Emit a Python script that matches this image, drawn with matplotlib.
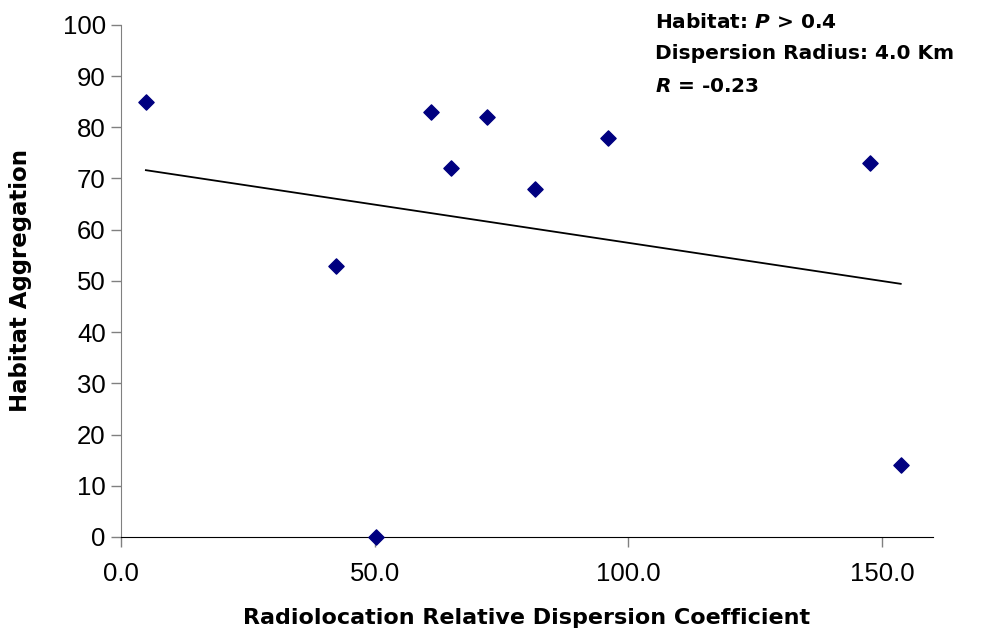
import numpy as np
import matplotlib.pyplot as plt

# dispersion coefficient vs habitat aggregation
dispersion = [4.9, 42.3, 50.2, 61.2, 65.0, 72.2, 81.7, 95.9, 147.6, 153.7]
aggregation = [85, 53, 0, 83, 72, 82, 68, 78, 73, 14]
xticks = [0, 50, 100, 150]
xticklabels = ["0.0", "50.0", "100.0", "150.0"]
yticks = list(range(0, 101, 10))

plt.rcParams['font.family'] = ['Liberation Sans', 'DejaVu Sans']
bold = ['DejaVu Sans']

fig = plt.figure(figsize=(9.88, 6.37), dpi=100)
ax = fig.add_axes([0.1225, 0.157, 0.8215, 0.804])

ax.scatter(dispersion, aggregation, marker='D', s=60, color='#000080',
           zorder=3, clip_on=False)

# linear trend line
slope, icpt = np.polyfit(dispersion, aggregation, 1)
xs = np.array([min(dispersion), max(dispersion)])
ax.plot(xs, slope * xs + icpt, color='black', lw=1.3)

ax.set_xlim(0, 160)
ax.set_ylim(0, 100)
ax.set_xticks(xticks)
ax.set_xticklabels(xticklabels)
ax.set_yticks(yticks)

for s in ['top', 'right']:
    ax.spines[s].set_visible(False)
ax.spines['left'].set_color('#808080')
ax.spines['bottom'].set_color('black')
ax.tick_params(axis='both', colors='#808080', labelcolor='black',
               labelsize=18.5, length=7, width=1)
ax.tick_params(axis='x', pad=11)
ax.tick_params(axis='y', pad=4)

ax.set_xlabel("Radiolocation Relative Dispersion Coefficient", family=bold,
              fontsize=16, fontweight='bold', labelpad=16)
ax.set_ylabel("Habitat Aggregation", family=bold, fontsize=16.5,
              fontweight='bold', labelpad=22)

fig.text(0.663, 0.965, "Habitat: $\\mathbfit{P}$ > 0.4", fontsize=14.5,
         family=bold, fontweight='bold', va='center')
fig.text(0.663, 0.916, "Dispersion Radius: 4.0 Km", fontsize=14.5,
         family=bold, fontweight='bold', va='center')
fig.text(0.663, 0.864, "$\\mathbfit{R}$ = -0.23", fontsize=14.5,
         family=bold, fontweight='bold', va='center')

fig.savefig("out.png", dpi=100)
